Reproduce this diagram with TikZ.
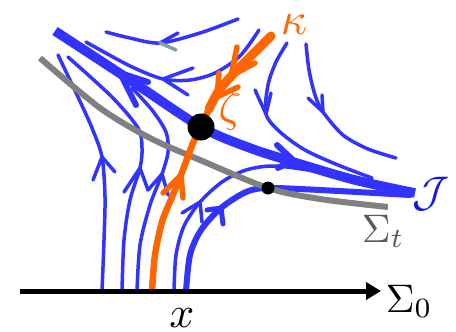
\documentclass[tikz,border=0pt]{standalone}
\usetikzlibrary{arrows.meta}
\definecolor{sblue}{RGB}{51,51,255}
\definecolor{jblue}{RGB}{20,20,235}
\definecolor{sorange}{RGB}{255,102,0}
\definecolor{sgray}{RGB}{128,128,128}
\definecolor{lgray}{RGB}{90,90,90}
\definecolor{bgray}{RGB}{128,160,160}
\begin{document}
\begin{tikzpicture}[x=1bp,y=-1bp,line cap=round,line join=round,
  stream/.style={sblue,line width=3.5bp},
  thickstream/.style={sblue,line width=6bp},
  jline/.style={sblue,line width=9.5bp,line cap=butt},
  jbarb/.style={sblue,line width=6bp},
  sigmat/.style={sgray,line width=6bp,line cap=butt},
  kline/.style={sorange,line width=6.5bp},
  kthick/.style={sorange,line width=9bp},
  kbarb/.style={sorange,line width=5.5bp},
  lbl/.style={inner sep=0pt}]
\useasboundingbox (0,0) rectangle (456,331);

% thin streamlines
\draw[stream] plot[smooth] coordinates {(238,19) (200,33) (160,43) (130,38) (106,32)};
\draw[stream] (178,33) -- (160,43);
\draw[bgray,line width=3.5bp] (160,43) -- (176,50);

\draw[stream] plot[smooth] coordinates {(259,30) (240,56) (215,73) (190,80) (163,79) (130,66) (86,42)};
\draw[stream] (193,68) -- (163,79) -- (188,95);

\draw[stream] plot[smooth] coordinates {(102,291) (104,240) (105,197) (102,157) (92,128) (78,97) (58,55)};
\draw[stream] (93,180) -- (102,157) -- (115,172);

\draw[stream] plot[smooth] coordinates {(122,291) (124,240) (130,200) (140,168) (142,148) (138,128) (112,97) (68,57)};
\draw[stream] (124,192) -- (140,168) -- (148,190);

\draw[stream] plot[smooth] coordinates {(137,291) (140,245) (150,205) (162,174) (168,152) (166,132) (152,110) (132,88)};
\draw[stream] (148,190) -- (162,174) -- (168,195);

\draw[stream] plot[smooth] coordinates {(174,291) (176,255) (184,226) (200,202) (222,182) (246,170) (275,166) (320,172) (360,181) (410,191)};
\draw[stream] (182,213) -- (200,202) -- (202,222);

\draw[stream] plot[smooth] coordinates {(287,43) (276,62) (268,85) (266,114) (280,132) (305,150) (338,165) (372,178)};
\draw[stream] (255,90) -- (266,114) -- (271,93);

\draw[stream] plot[smooth] coordinates {(306,44) (309,70) (315,95) (323,112) (343,135) (368,149) (396,158)};
\draw[stream] (308,98) -- (323,112) -- (322,95);

% thick streamline
\draw[thickstream] plot[smooth] coordinates {(186,291) (190,255) (201,230) (221,208) (246,192) (268,188) (320,190) (410,195)};
\draw[sblue,line width=5bp] (207,210) -- (221,208) -- (223,224);

% J
\draw[jline] plot[smooth] coordinates {(55,31) (130,80) (201,127) (250,148) (300,164) (355,180) (415,193)};
\draw[jbarb] (148,82) -- (120,73) -- (136,105);
\draw[jbarb] (277,145) -- (293,160) -- (278,168);

% Sigma_t
\draw[sigmat] plot[smooth] coordinates {(40,58) (100,108) (150,138) (200,160) (268,188) (320,199) (388,207)};

% kappa
\draw[kline] plot[smooth] coordinates {(152,291) (155,255) (162,222) (172,197) (181,175) (193,143) (201,127) (209,109) (220,89) (240,67) (271,36)};
\draw[kthick] plot[smooth] coordinates {(209,109) (220,89) (240,67) (271,36)};
\draw[kbarb] (163,193) -- (181,175) -- (183,198);
\draw[kbarb] (237,47) -- (231,76) -- (255,63);
\draw[kbarb] (219,73) -- (217,97) -- (238,87);

% dots
\fill[black] (201,127) circle[radius=13.5bp];
\fill[black] (268,188) circle[radius=6.5bp];

% axis
\draw[line width=5bp,line cap=butt,-{Triangle[length=15bp,width=17bp]}] (20,291) -- (381,291);

% labels
\node[lbl,sorange,scale=4.6,anchor=base west] (kap) at (280,34) {$\kappa$};
\node[lbl,sorange,scale=4.5] (zet) at (230,110) {$\zeta$};
\node[lbl,jblue,scale=4.3] (jlab) at (431,194) {$\mathcal{J}$};
\node[lbl,lgray,scale=4,anchor=base west] (st) at (361,242) {$\Sigma_t$};
\node[lbl,black,scale=4,anchor=base west] (s0) at (385,312) {$\Sigma_0$};
\node[lbl,black,scale=4.4,anchor=base] (xl) at (182,327) {$x$};
\end{tikzpicture}
\end{document}
